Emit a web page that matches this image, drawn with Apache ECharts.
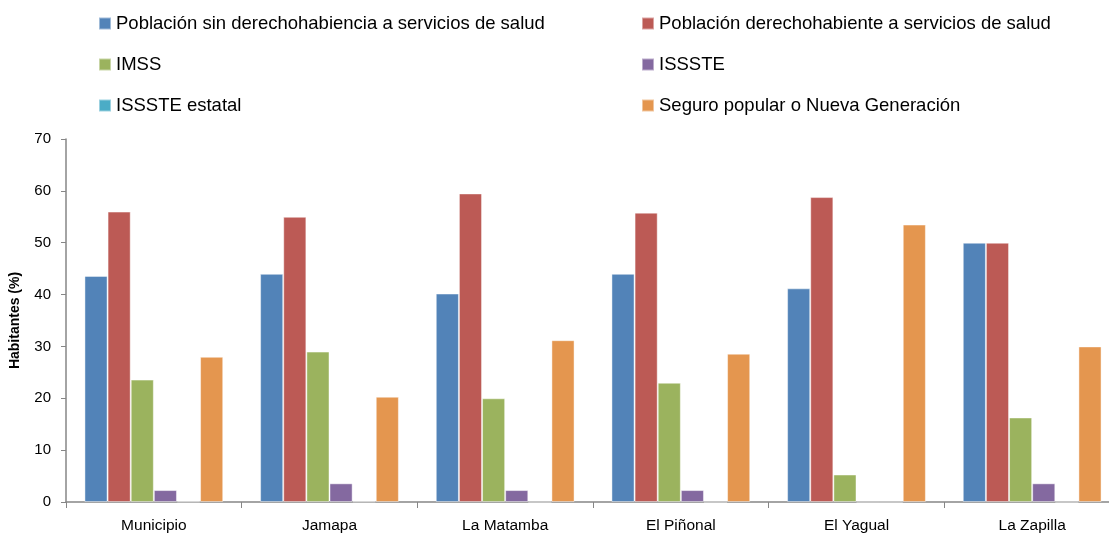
<!DOCTYPE html>
<html>
<head>
<meta charset="utf-8">
<script src="https://cdn.jsdelivr.net/npm/echarts@6/dist/echarts.min.js"></script>
<style>
  html, body { margin: 0; padding: 0; background: #fff; overflow: hidden; }
  /* the last category runs past the right edge in the original, so the canvas is a bit wider than the window */
  #chart { width: 1120px; height: 534px; }
</style>
</head>
<body>
<div id="chart"></div>
<script>
const categories = ['Municipio', 'Jamapa', 'La Matamba', 'El Piñonal', 'El Yagual', 'La Zapilla'];

const sinDerecho = [43.6, 44.0, 40.2, 44.0, 41.2, 50.0];
const derechohabiente = [56.0, 55.0, 59.5, 55.8, 58.8, 50.0];
const imss = [23.6, 29.0, 20.0, 23.0, 5.3, 16.3];
const issste = [2.3, 3.6, 2.3, 2.3, 0, 3.6];
const isssteEstatal = [0.1, 0.1, 0, 0, 0, 0];
const seguroPopular = [28.0, 20.3, 31.2, 28.6, 53.5, 30.0];

const seriesNames = [
  'Población sin derechohabiencia a servicios de salud',
  'Población derechohabiente a servicios de salud',
  'IMSS',
  'ISSSTE',
  'ISSSTE estatal',
  'Seguro popular o Nueva Generación'
];
const seriesData = [sinDerecho, derechohabiente, imss, issste, isssteEstatal, seguroPopular];
const colors = ['#5283B8', '#BC5A55', '#9BB35E', '#8469A0', '#4BACC6', '#E4964F'];

const chart = echarts.init(document.getElementById('chart'));
const font = 'Liberation Sans, Arial, sans-serif';

const legendCommon = {
  orient: 'vertical',
  top: 14,
  padding: 0,
  itemWidth: 12,
  itemHeight: 12,
  itemGap: 22,
  icon: 'rect',
  textStyle: { fontFamily: font, fontSize: 18.5, color: '#000' }
};

const option = {
  animation: false,
  color: colors,
  textStyle: { fontFamily: font },
  legend: [
    Object.assign({ left: 98, data: [seriesNames[0], seriesNames[2], seriesNames[4]] }, legendCommon),
    Object.assign({ left: 641, data: [seriesNames[1], seriesNames[3], seriesNames[5]] }, legendCommon)
  ],
  grid: { left: 66, right: 0, top: 139, bottom: 31, containLabel: false },
  xAxis: {
    type: 'category',
    data: categories,
    axisLine: { lineStyle: { color: '#868686', width: 1.5 } },
    axisTick: { show: true, length: 6, lineStyle: { color: '#868686' } },
    axisLabel: { color: '#000', fontSize: 15.5, margin: 16, fontFamily: font }
  },
  yAxis: {
    type: 'value',
    min: 0,
    max: 70,
    interval: 10,
    name: 'Habitantes (%)',
    nameLocation: 'middle',
    nameGap: 44,
    nameTextStyle: { fontWeight: 'bold', fontSize: 14, color: '#000', fontFamily: font },
    axisLine: { show: true, lineStyle: { color: '#868686', width: 1.5 } },
    axisTick: { show: true, length: 5, lineStyle: { color: '#868686' } },
    axisLabel: { color: '#000', fontSize: 15, margin: 15, fontFamily: font },
    splitLine: { show: false }
  },
  series: seriesNames.map((name, i) => ({
    name: name,
    type: 'bar',
    data: seriesData[i],
    barGap: '0%',
    barCategoryGap: '21%',
    itemStyle: {
      color: colors[i],
      borderColor: 'rgba(255,255,255,0.45)',
      borderWidth: 1
    }
  }))
};

chart.setOption(option);
</script>
</body>
</html>
